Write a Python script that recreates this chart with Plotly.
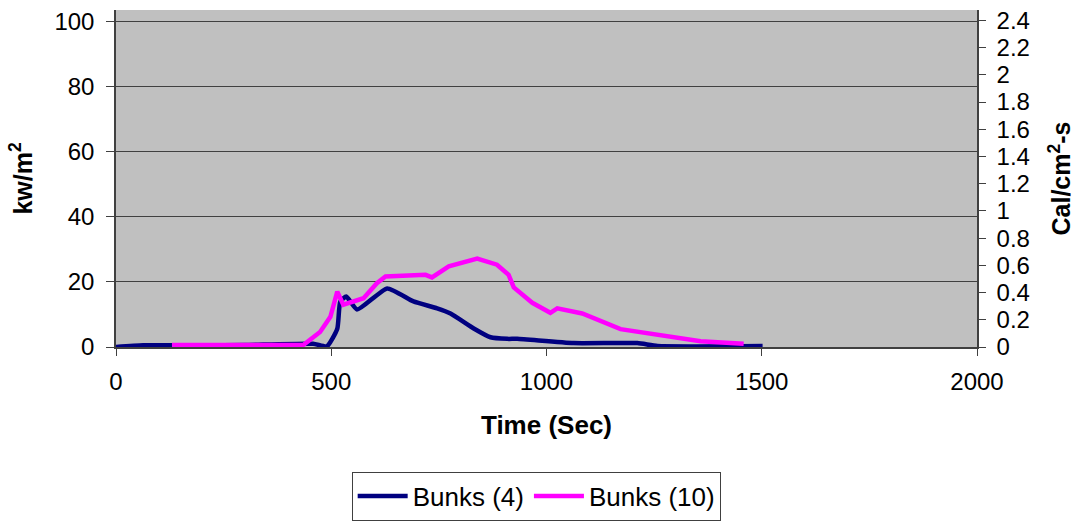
import plotly.graph_objects as go

# Bunks (4)
t4 = [0, 63, 200, 300, 458, 490, 514, 521, 535, 560, 630, 691, 746, 777, 831, 870, 909, 932, 1063, 1211, 1258, 1502]
v4 = [0, 0.5, 0.5, 0.6, 1.0, 0.2, 5.6, 14.0, 15.5, 11.5, 18.0, 14.0, 11.9, 10.3, 5.7, 3.0, 2.5, 2.5, 1.2, 1.2, 0.3, 0.3]

# Bunks (10)
t10 = [130, 300, 435, 474, 498, 514, 528, 575, 606, 626, 719, 734, 773, 839, 885, 912, 924, 967, 1009, 1025, 1083, 1172, 1358, 1458]
v10 = [0.6, 0.6, 0.6, 4.6, 9.3, 17.0, 13.0, 15.0, 19.6, 21.7, 22.2, 21.4, 24.8, 27.2, 25.3, 22.2, 18.3, 13.6, 10.5, 11.9, 10.3, 5.5, 1.8, 1.0]

xticks = [0, 500, 1000, 1500, 2000]
yticks_left = [0, 20, 40, 60, 80, 100]
yticks_right = [0, 0.2, 0.4, 0.6, 0.8, 1, 1.2, 1.4, 1.6, 1.8, 2, 2.2, 2.4]

FONT = "Liberation Sans, Arial, sans-serif"

fig = go.Figure()
fig.add_trace(go.Scatter(x=t4, y=v4, mode="lines", name="Bunks (4)",
                         line=dict(color="#000080", width=4.5, shape="spline", smoothing=0.5)))
fig.add_trace(go.Scatter(x=t10, y=v10, mode="lines", name="Bunks (10)",
                         line=dict(color="#FF00FF", width=4.5)))
fig.add_trace(go.Scatter(x=[None], y=[None], yaxis="y2", showlegend=False, hoverinfo="skip"))

fig.update_layout(
    width=1075, height=522,
    margin=dict(l=116, r=98, t=10, b=175, autoexpand=False),
    paper_bgcolor="white",
    plot_bgcolor="#C0C0C0",
    font=dict(family=FONT, size=24, color="black"),
    xaxis=dict(range=[0, 2000], tickvals=xticks, ticks="outside", ticklen=7, tickcolor="#404040",
               showgrid=False, zeroline=False, showline=True, linecolor="#404040", linewidth=1.5,
               tickfont=dict(size=24), automargin=False, ticklabelstandoff=5,
               title=dict(text="<b>Time (Sec)</b>", font=dict(size=26), standoff=22)),
    yaxis=dict(range=[0, 103.6], tickvals=yticks_left, ticks="outside", ticklen=8, tickcolor="#404040",
               showgrid=True, gridcolor="#404040", gridwidth=1, zeroline=False,
               showline=True, linecolor="#404040", linewidth=1.5,
               tickfont=dict(size=24), automargin=False, ticklabelstandoff=7,
               title=dict(text="<b>kw/m<sup>2</sup></b>", font=dict(size=25), standoff=15)),
    yaxis2=dict(range=[0, 2.476], tickvals=yticks_right, overlaying="y", side="right",
                ticks="outside", ticklen=7, tickcolor="#404040", showgrid=False, zeroline=False,
                showline=True, linecolor="#404040", linewidth=1.5,
                tickfont=dict(size=24), automargin=False, ticklabelstandoff=6,
                title=dict(text="<b>Cal/cm<sup>2</sup>-s</b>", font=dict(size=25), standoff=24)),
    legend=dict(orientation="h", x=0.488, xanchor="center", y=-0.37, yanchor="top",
                bordercolor="#404040", borderwidth=1, font=dict(size=26),
                itemwidth=50, tracegroupgap=0),
    showlegend=True,
)

fig.write_html("out.html")
